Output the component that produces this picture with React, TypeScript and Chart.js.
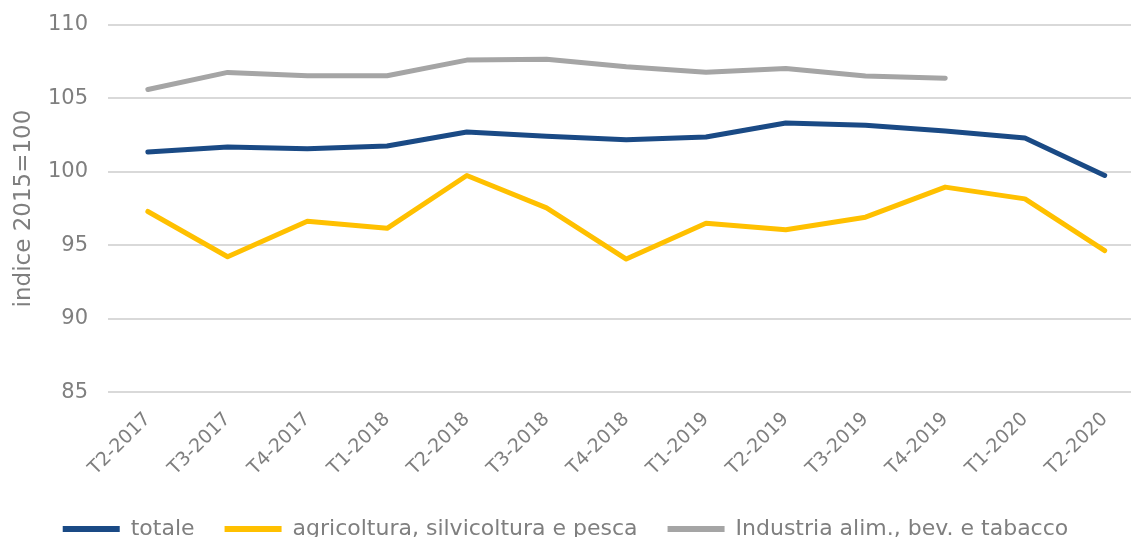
import React, { useEffect, useRef } from "react";
import { Chart, registerables } from "chart.js";

Chart.register(...registerables);

const categories = [
  "T2-2017", "T3-2017", "T4-2017", "T1-2018", "T2-2018", "T3-2018", "T4-2018",
  "T1-2019", "T2-2019", "T3-2019", "T4-2019", "T1-2020", "T2-2020",
];
const totale = [101.35, 101.69, 101.58, 101.76, 102.71, 102.42, 102.19, 102.37, 103.33, 103.17, 102.78, 102.3, 99.75];
const agricoltura = [97.3, 94.22, 96.63, 96.15, 99.75, 97.55, 94.06, 96.5, 96.05, 96.91, 98.96, 98.16, 94.63];
const industria = [105.61, 106.77, 106.54, 106.54, 107.61, 107.66, 107.15, 106.79, 107.04, 106.52, 106.38, null, null];
const yTicks = [85, 90, 95, 100, 105, 110];

const seriesNames = ["totale", "agricoltura, silvicoltura e pesca", "Industria alim., bev. e tabacco"];
const seriesColors = ["#1a4a85", "#ffc000", "#a5a5a5"];
const textColor = "#7f7f7f";
const FONT = "'DejaVu Sans', sans-serif";

export default function App() {
  const ref = useRef<HTMLCanvasElement | null>(null);

  useEffect(() => {
    document.body.style.margin = "0";
    const series = [totale, agricoltura, industria];
    const chart = new Chart(ref.current as HTMLCanvasElement, {
      type: "line",
      data: {
        datasets: series.map((vals, si) => ({
          label: seriesNames[si],
          data: vals.map((v, i) => ({ x: i, y: v })),
          borderColor: seriesColors[si],
          backgroundColor: seriesColors[si],
          borderWidth: 5,
          pointRadius: 0,
          pointHoverRadius: 0,
          tension: 0,
          borderCapStyle: "round",
          borderJoinStyle: "round",
          spanGaps: false,
        })),
      },
      options: {
        animation: false,
        responsive: true,
        maintainAspectRatio: false,
        layout: { padding: { top: 25, right: 0, left: 0, bottom: 0 } },
        plugins: {
          tooltip: { enabled: false },
          legend: {
            position: "bottom",
            labels: {
              boxWidth: 57,
              boxHeight: 6,
              padding: 30,
              color: textColor,
              font: { family: FONT, size: 22 },
              generateLabels: (c: any) =>
                (Chart.defaults.plugins.legend.labels as any)
                  .generateLabels(c)
                  .map((l: any) => ({ ...l, lineWidth: 0 })),
            },
          },
        },
        scales: {
          x: {
            type: "linear",
            min: -0.5,
            max: 12.33,
            grid: { display: false, drawTicks: false },
            border: { display: false },
            afterBuildTicks: (s: any) => {
              s.ticks = categories.map((_, i) => ({ value: i }));
            },
            afterFit: (s: any) => {
              s.paddingLeft = 0;
              s.paddingRight = 0;
              s.height = s.height - 8;
            },
            ticks: {
              autoSkip: false,
              minRotation: 45,
              maxRotation: 45,
              padding: 16,
              color: textColor,
              font: { family: FONT, size: 19 },
              callback: (v: any) => categories[Math.round(Number(v))] ?? "",
            },
          },
          y: {
            min: 85,
            max: 110,
            afterBuildTicks: (s: any) => {
              s.ticks = yTicks.map((v) => ({ value: v }));
            },
            afterFit: (s: any) => {
              s.width = 108;
              s.paddingTop = 0;
              s.paddingBottom = 0;
            },
            grid: { color: "#d9d9d9", lineWidth: 2, drawTicks: false },
            border: { display: false },
            ticks: {
              padding: 20,
              color: textColor,
              font: { family: FONT, size: 21 },
            },
            title: {
              display: true,
              text: "indice 2015=100",
              color: textColor,
              font: { family: FONT, size: 23 },
              padding: { top: 10, bottom: 0 },
            },
          },
        },
      },
    } as any);
    return () => chart.destroy();
  }, []);

  return (
    <div style={{ width: 1131, height: 537, overflow: "hidden" }}>
      <div style={{ width: 1131, height: 550, position: "relative" }}>
        <canvas ref={ref} />
      </div>
    </div>
  );
}
